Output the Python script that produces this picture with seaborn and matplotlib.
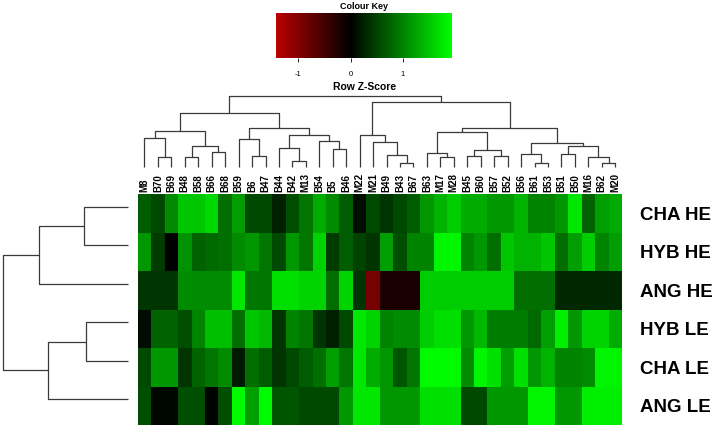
import numpy as np
import pandas as pd
import matplotlib
matplotlib.use("Agg")
import matplotlib.pyplot as plt
from matplotlib.colors import LinearSegmentedColormap
import seaborn as sns

# ---------------- data ----------------
cols = ["M8", "B70", "B69", "B48", "B58", "B66", "B68", "B59", "B6", "B47", "B44", "B42",
        "M13", "B54", "B5", "B46", "M22", "M21", "B49", "B43", "B67", "B63", "M17", "M28",
        "B45", "B60", "B57", "B52", "B56", "B61", "B53", "B51", "B50", "M16", "B62", "M20"]
rows = ["CHA HE", "HYB HE", "ANG HE", "HYB LE", "CHA LE", "ANG LE"]

cha_he = [0.7, 0.55, 1.05, 1.5, 1.5, 1.65, 0.85, 1.2, 0.55, 0.55, 0.25, 0.6, 0.9, 1.3, 1.05, 0.7, 0.1, 0.55,
          0.4, 0.55, 0.7, 1.15, 1.35, 1.55, 1.3, 1.3, 1.15, 1.15, 1.35, 1.0, 1.0, 1.15, 1.75, 0.75, 1.2, 1.3]
hyb_he = [1.15, 0.45, 0.0, 1.1, 0.75, 0.8, 0.85, 1.05, 1.15, 0.9, 0.55, 1.15, 0.9, 1.6, 0.45, 0.7, 0.5, 0.4,
          1.2, 0.6, 1.0, 1.0, 1.85, 1.85, 1.0, 1.15, 0.85, 1.5, 1.35, 1.35, 1.5, 0.85, 1.2, 1.55, 1.0, 1.2]
ang_he = [0.4, 0.4, 0.4, 1.05, 1.05, 1.05, 1.05, 1.75, 0.9, 0.9, 1.7, 1.7, 1.6, 1.6, 0.85, 1.6, 0.4, -0.9,
          -0.19, -0.19, -0.19, 1.55, 1.55, 1.55, 1.55, 1.55, 1.55, 1.55, 0.85, 0.85, 0.85, 0.3, 0.3, 0.3, 0.3, 0.3]
hyb_le = [0.1, 0.75, 0.75, 0.6, 1.0, 1.45, 1.45, 0.85, 1.5, 1.4, 0.4, 1.0, 0.9, 0.4, 0.25, 0.55, 1.75, 1.6,
          1.0, 1.05, 1.05, 1.55, 1.7, 1.7, 1.15, 1.4, 0.95, 0.95, 0.95, 0.8, 1.2, 1.8, 1.15, 1.6, 1.6, 1.3]
cha_le = [0.55, 1.15, 1.15, 0.4, 0.75, 0.9, 1.05, 0.2, 0.85, 0.7, 0.4, 0.55, 0.7, 0.85, 1.2, 0.9, 1.75, 1.3,
          1.15, 0.65, 0.9, 1.9, 1.9, 1.9, 1.05, 1.85, 1.7, 1.2, 1.7, 1.15, 1.35, 1.0, 1.0, 1.05, 1.85, 1.85]
ang_le = [0.6, 0.05, 0.05, 0.6, 0.6, 0.03, 0.6, 1.9, 1.2, 1.9, 0.65, 0.65, 0.55, 0.55, 0.55, 1.15, 1.75, 1.75,
          1.15, 1.15, 1.15, 1.7, 1.7, 1.7, 0.55, 0.55, 1.15, 1.15, 1.15, 1.85, 1.85, 1.15, 1.15, 1.8, 1.8, 1.8]

# dendrogram merges: (left, right, height); strings = leaves, ints = earlier merge index
col_merges = [
    ("B70", "B69", 9.7), ("M8", 0, 28.7), ("B48", "B58", 9.7), ("B66", "B68", 15.3), (2, 3, 21.3),
    (1, 4, 36.3), ("B6", "B47", 11), ("B59", 6, 27.7), ("B42", "M13", 6), ("B44", 8, 19),
    ("B5", "B46", 18), ("B54", 10, 26), (9, 11, 31.7), (7, 12, 39.3), (5, 13, 54),
    ("B43", "B67", 3.7), ("B49", 15, 12), ("M21", 16, 24.7), ("M22", 17, 31.7),
    ("M17", "M28", 10.3), ("B63", 19, 14.3), ("B45", "B60", 11), ("B57", "B52", 11), (21, 22, 17),
    (20, 23, 34.7), ("B61", "B53", 4.3), ("B56", 25, 13), ("B51", "B50", 13), ("B62", "M20", 3.7),
    ("M16", 28, 10.3), (27, 29, 21.5), (26, 30, 24.3), (24, 31, 39.3), (18, 32, 65.3), (14, 33, 71),
]
row_merges = [
    ("CHA HE", "HYB HE", 44), (0, "ANG HE", 89.3), ("HYB LE", "CHA LE", 42.3),
    (2, "ANG LE", 80), (1, 3, 125),
]

key_min, key_max = -1.42, 1.94

# ---------------- figure ----------------
W, H = 718, 428
fig = plt.figure(figsize=(W / 100, H / 100), dpi=100)
fig.patch.set_facecolor("white")


def fx(px):
    return px / W


def fy(py):
    return 1 - py / H


hm_l, hm_r, hm_t, hm_b = 137.7, 622.0, 194.3, 425.0
ax_hm = fig.add_axes([fx(hm_l), fy(hm_b), fx(hm_r - hm_l), (hm_b - hm_t) / H])
key_l, key_r, key_t, key_b = 276.0, 452.3, 13.3, 58.3
ax_key = fig.add_axes([fx(key_l), fy(key_b), fx(key_r - key_l), (key_b - key_t) / H])

df = pd.DataFrame([cha_he, hyb_he, ang_he, hyb_le, cha_le, ang_le], index=rows, columns=cols)

frac0 = (0 - key_min) / (key_max - key_min)
cmap = LinearSegmentedColormap.from_list(
    "redgreen", [(0.0, (0.73, 0.0, 0.0)), (frac0, (0.0, 0.0, 0.0)), (1.0, (0.0, 1.0, 0.0))])

sns.heatmap(df, ax=ax_hm, cmap=cmap, vmin=key_min, vmax=key_max, cbar=True, cbar_ax=ax_key,
            cbar_kws={"orientation": "horizontal"}, linewidths=0)

font = "Liberation Sans"
ax_hm.xaxis.tick_top()
ax_hm.set_xticks(np.arange(len(cols)) + 0.5)
ax_hm.set_xticklabels(cols, rotation=90, fontsize=7, fontweight="bold", family=font)
ax_hm.yaxis.tick_right()
ax_hm.set_yticks(np.arange(len(rows)) + 0.5)
ax_hm.set_yticklabels(rows, rotation=0, fontsize=13.5, fontweight="bold", family=font)
ax_hm.tick_params(axis="x", length=0, pad=2)
ax_hm.tick_params(axis="y", length=0, pad=13)
ax_hm.set_xlabel("")
ax_hm.set_ylabel("")

# colour key
ax_key.set_xticks([-1, 0, 1])
ax_key.set_xticklabels(["-1", "0", "1"], fontsize=5.5, family=font)
ax_key.tick_params(axis="x", length=3, width=0.6, pad=6)
for s in ax_key.spines.values():
    s.set_visible(False)
fig.text(fx((key_l + key_r) / 2), fy(6.5), "Colour Key", ha="center", va="center",
         fontsize=6.5, fontweight="bold", family=font)
fig.text(fx((key_l + key_r) / 2), fy(87.5), "Row Z-Score", ha="center", va="center",
         fontsize=7.5, fontweight="bold", family=font)


# ---------------- dendrograms ----------------
def build(merges, leaves):
    pos = {name: i + 0.5 for i, name in enumerate(leaves)}
    nodes = []
    segs = []

    def get(k):
        if isinstance(k, str):
            return pos[k], 0.0
        return nodes[k]

    for a, b, h in merges:
        xa, ha = get(a)
        xb, hb = get(b)
        segs.append(([xa, xa, xb, xb], [ha, h, h, hb]))
        nodes.append(((xa + xb) / 2, h))
    return segs


line_kw = dict(color="#3a3a3a", lw=0.9, solid_capstyle="butt", clip_on=False)

# column dendrogram
cd_top, cd_bot = 96.0, 167.0
ax_cd = fig.add_axes([fx(hm_l), fy(cd_bot), fx(hm_r - hm_l), (cd_bot - cd_top) / H])
for xs, hs in build(col_merges, cols):
    ax_cd.plot(xs, hs, **line_kw)
ax_cd.set_xlim(0, len(cols))
ax_cd.set_ylim(0, max(m[2] for m in col_merges))
ax_cd.axis("off")

# row dendrogram (slightly offset upward as in reference)
rd_l, rd_r = 3.3, 128.3
shift = 6.5
ax_rd = fig.add_axes([fx(rd_l), fy(hm_b - shift), fx(rd_r - rd_l), (hm_b - hm_t) / H])
for ys, hs in build(row_merges, rows):
    ax_rd.plot(hs, ys, **line_kw)
ax_rd.set_ylim(len(rows), 0)
ax_rd.set_xlim(max(m[2] for m in row_merges), 0)
ax_rd.axis("off")

fig.savefig("out.png", dpi=100, facecolor="white")
